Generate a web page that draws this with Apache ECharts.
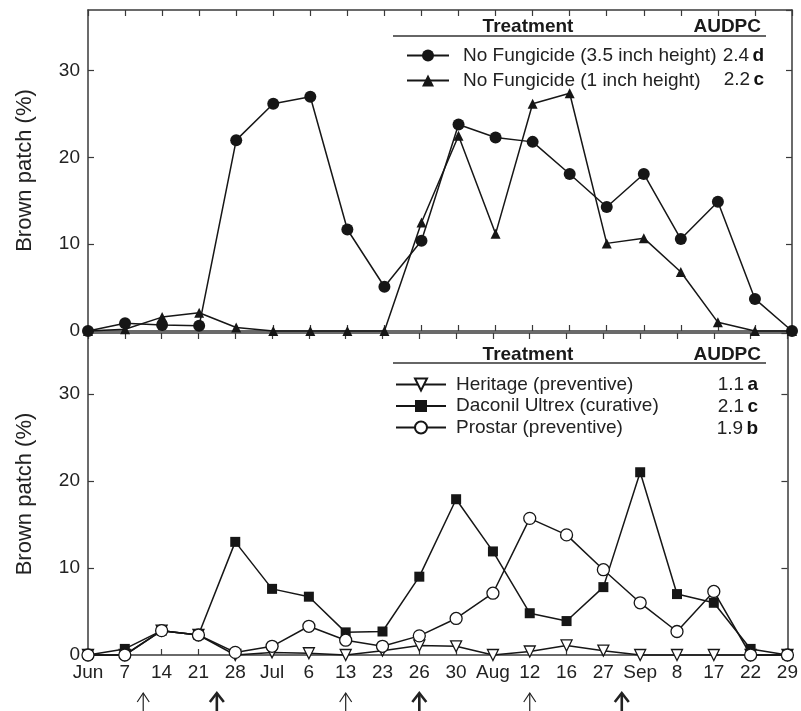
<!DOCTYPE html>
<html>
<head>
<meta charset="utf-8">
<script src="https://cdn.jsdelivr.net/npm/echarts@6/dist/echarts.min.js"></script>
<style>
html,body{margin:0;padding:0;background:#fff;}
#chart{width:801px;height:711px;}
</style>
</head>
<body>
<div id="chart"></div>
<script>
// ---- data ----
var categories = ['Jun','7','14','21','28','Jul','6','13','23','26','30','Aug','12','16','27','Sep','8','17','22','29'];
var noFung35 = [0, 0.9, 0.7, 0.6, 22.0, 26.2, 27.0, 11.7, 5.1, 10.4, 23.8, 22.3, 21.8, 18.1, 14.3, 18.1, 10.6, 14.9, 3.7, 0];
var noFung1  = [0, 0.2, 1.6, 2.1, 0.4, 0, 0, 0, 0, 12.5, 22.5, 11.2, 26.2, 27.4, 10.1, 10.7, 6.8, 1.0, 0, 0];
var heritage = [0, 0, 2.8, 2.3, 0, 0.3, 0.2, 0, 0.5, 1.1, 1.0, 0, 0.4, 1.1, 0.5, 0, 0, 0, 0, 0];
var daconil  = [0, 0.7, 2.8, 2.3, 13.0, 7.6, 6.7, 2.6, 2.7, 9.0, 17.9, 11.9, 4.8, 3.9, 7.8, 21.0, 7.0, 6.0, 0.7, 0];
var prostar  = [0, 0, 2.8, 2.3, 0.3, 1.0, 3.3, 1.7, 1.0, 2.2, 4.2, 7.1, 15.7, 13.8, 9.8, 6.0, 2.7, 7.3, 0, 0];
var yTicks = [0, 10, 20, 30];
var topNames = ['No Fungicide (3.5 inch height)', 'No Fungicide (1 inch height)'];
var topAudpc = [['2.4', 'd'], ['2.2', 'c']];
var botNames = ['Heritage (preventive)', 'Daconil Ultrex (curative)', 'Prostar (preventive)'];
var botAudpc = [['1.1', 'a'], ['2.1', 'c'], ['1.9', 'b']];
// fungicide application arrows: position in category-index units, bold = thick arrow
var arrowPos  = [1.5, 3.5, 7, 9, 12, 14.5];
var arrowBold = [false, true, false, true, false, true];

var FONT = 'Liberation Sans, Arial, sans-serif';
var INK = '#161616';
var AX = '#3a3a3a';

var chart = echarts.init(document.getElementById('chart'), null, {renderer: 'canvas'});

function xAx(grid, pos, labels) {
  return {
    type: 'category', gridIndex: grid, position: pos, data: categories, boundaryGap: false,
    axisLine: {show: true, onZero: false, lineStyle: {color: AX, width: 1.5}},
    axisTick: {show: true, inside: true, length: 6, lineStyle: {color: AX, width: 1.2}},
    axisLabel: {show: labels, interval: 0, fontSize: 19, color: '#222', fontFamily: FONT, margin: 8},
    splitLine: {show: false}
  };
}
function yAx(grid, pos, labels) {
  var o = {
    type: 'value', gridIndex: grid, position: pos, min: 0, max: 37, interval: 10,
    axisLine: {show: true, lineStyle: {color: AX, width: 1.5}},
    axisTick: {show: true, inside: true, length: 6, lineStyle: {color: AX, width: 1.2}},
    axisLabel: {show: labels, fontSize: 19, color: '#222', fontFamily: FONT, margin: 8, showMaxLabel: false,
      formatter: function (v) { return yTicks.indexOf(v) >= 0 ? String(v) : ''; }},
    splitLine: {show: false}
  };
  if (labels) {
    o.name = 'Brown patch (%)';
    o.nameLocation = 'middle';
    o.nameGap = 52;
    o.nameTextStyle = {fontSize: 22, color: '#222', fontFamily: FONT};
  }
  return o;
}
function ser(name, data, xi, yi, symbol, size, filled, rotate) {
  return {
    name: name, type: 'line', xAxisIndex: xi, yAxisIndex: yi, data: data,
    symbol: symbol, symbolSize: size, symbolRotate: rotate || 0, showAllSymbol: true, clip: false,
    lineStyle: {color: INK, width: 1.5},
    itemStyle: {color: filled ? INK : '#fff', borderColor: INK, borderWidth: filled ? 0 : 1.3},
    emphasis: {disabled: true}, animation: false
  };
}

var legendText = {fontSize: 19, color: '#222', fontFamily: FONT, lineHeight: 21};

var option = {
  backgroundColor: '#fff',
  animation: false,
  grid: [
    {left: 88, right: 9, top: 10, height: 321},
    {left: 88, right: 9, top: 333, height: 322}
  ],
  xAxis: [xAx(0, 'bottom', false), xAx(0, 'top', false), xAx(1, 'bottom', true), xAx(1, 'top', false)],
  yAxis: [yAx(0, 'left', true), yAx(0, 'right', false), yAx(1, 'left', true), yAx(1, 'right', false)],
  legend: [
    {data: topNames, orient: 'vertical', left: 401, top: 40, itemWidth: 42, itemHeight: 15, itemGap: 4,
     textStyle: Object.assign({padding: [0, 0, 0, 9]}, legendText), selectedMode: false},
    {data: botNames, orient: 'vertical', left: 390, top: 369, itemWidth: 50, itemHeight: 15, itemGap: 0.5,
     textStyle: Object.assign({padding: [0, 0, 0, 5]}, legendText), selectedMode: false}
  ],
  series: [
    ser(topNames[0], noFung35, 0, 0, 'circle', 12, true),
    ser(topNames[1], noFung1, 0, 0, 'triangle', 10, true),
    ser(botNames[0], heritage, 2, 2, 'triangle', 11, false, 180),
    ser(botNames[1], daconil, 2, 2, 'rect', 10, true),
    ser(botNames[2], prostar, 2, 2, 'circle', 12, false)
  ]
};
chart.setOption(option);

// ---- legend headers, AUDPC column and arrows ----
function header(yText, yLine) {
  return [
    {type: 'text', style: {text: 'Treatment', x: 528, y: yText, align: 'center', verticalAlign: 'middle',
      font: 'bold 19px ' + FONT, fill: '#1a1a1a'}},
    {type: 'text', style: {text: 'AUDPC', x: 761, y: yText, align: 'right', verticalAlign: 'middle',
      font: 'bold 19px ' + FONT, fill: '#1a1a1a'}},
    {type: 'line', shape: {x1: 393, y1: yLine, x2: 766, y2: yLine}, style: {stroke: '#333', lineWidth: 1.5}}
  ];
}
function audpc(vals, x, ys) {
  return vals.map(function (v, i) {
    return {type: 'text', style: {
      text: '{n|' + v[0] + '} {b|' + v[1] + '}', x: x, y: ys[i], align: 'right', verticalAlign: 'middle',
      rich: {n: {font: '19px ' + FONT, fill: '#222'}, b: {font: 'bold 19px ' + FONT, fill: '#111'}}
    }};
  });
}
function pxAt(idx) {
  var a = Math.floor(idx), b = Math.ceil(idx);
  var pa = chart.convertToPixel({xAxisIndex: 2}, categories[a]);
  var pb = chart.convertToPixel({xAxisIndex: 2}, categories[b]);
  return pa + (pb - pa) * (idx - a);
}
var g = [];
g = g.concat(header(27, 36));
g = g.concat(header(355, 363));
g = g.concat(audpc(topAudpc, 764, [56, 80]));
g = g.concat(audpc(botAudpc, 758, [385, 407, 429]));
arrowPos.forEach(function (p, i) {
  var x = pxAt(p);
  var w = arrowBold[i] ? 2.6 : 1.2;
  var hw = arrowBold[i] ? 7 : 6;
  var top = 693;
  g.push({type: 'line', shape: {x1: x, y1: top, x2: x, y2: 712}, style: {stroke: '#222', lineWidth: w}});
  g.push({type: 'polyline', shape: {points: [[x - hw, top + 9], [x, top], [x + hw, top + 9]]},
    style: {stroke: '#222', lineWidth: w, fill: null}});
});
chart.setOption({graphic: g});
</script>
</body>
</html>
